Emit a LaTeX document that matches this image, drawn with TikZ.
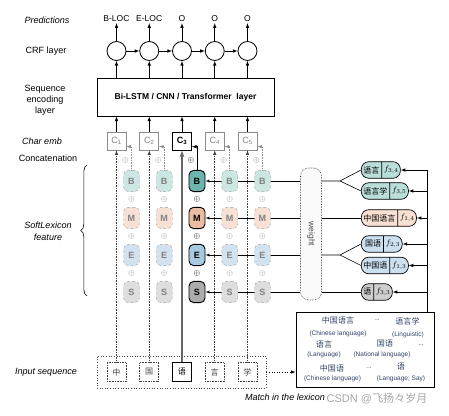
\documentclass[tikz,border=0pt]{standalone}
\usepackage{fontspec}
\setmainfont{Liberation Sans}
\newfontfamily\cjk{Noto Sans CJK SC}
\usetikzlibrary{shapes.multipart,decorations.pathreplacing,backgrounds}

\definecolor{bhi}{RGB}{108,180,172}
\definecolor{blo}{RGB}{204,230,228}
\definecolor{mhi}{RGB}{234,188,162}
\definecolor{mlo}{RGB}{247,225,212}
\definecolor{ehi}{RGB}{168,202,224}
\definecolor{elo}{RGB}{210,227,239}
\definecolor{shi}{RGB}{172,172,172}
\definecolor{slo}{RGB}{222,222,222}
\definecolor{lexteal}{RGB}{186,222,218}
\definecolor{lexpeach}{RGB}{249,224,210}
\definecolor{lexblue}{RGB}{204,224,240}
\definecolor{lexgray}{RGB}{206,206,206}
\definecolor{lexink}{RGB}{48,66,104}

\begin{document}
\begin{tikzpicture}[x=0.035cm,y=-0.035cm,inner sep=0.3mm,>=latex,semithick,
  lbl/.style={font=\fontsize{9}{11}\selectfont,align=center},
  ilbl/.style={align=center,font=\fontsize{9}{12}\selectfont\itshape},
  pred/.style={font=\fontsize{8.5}{10}\selectfont},
  crf/.style={circle,draw,line width=0.8pt,minimum size=0.665cm,inner sep=0},
  cbox/.style={draw=black!45,text=black!50,minimum width=0.665cm,minimum height=0.63cm,font=\fontsize{9}{10}\selectfont},
  cboxon/.style={draw=black,text=black,line width=0.8pt,minimum width=0.665cm,minimum height=0.63cm,font=\fontsize{9}{10}\selectfont\bfseries},
  bmes/.style={draw=black!35,densely dashed,thin,rounded corners=0.16cm,minimum width=0.56cm,minimum height=0.74cm,text=black!50,font=\fontsize{9}{10}\selectfont\bfseries},
  bmeson/.style={draw=black,line width=0.9pt,rounded corners=0.16cm,minimum width=0.56cm,minimum height=0.74cm,font=\fontsize{9}{10}\selectfont\bfseries},
  oplus/.style={text=black!45,inner sep=0,font=\fontsize{8}{9}\selectfont},
  chbox/.style={draw=black!75,densely dotted,minimum size=0.665cm,font=\cjk\fontsize{8}{9}\selectfont,text=black!75},
  lex/.style={rectangle split,rectangle split horizontal,rectangle split parts=2,draw,line width=0.7pt,rounded corners=0.26cm,minimum height=0.58cm,inner xsep=0.7mm,anchor=west,font=\cjk\fontsize{8}{9}\selectfont},
  lexw/.style={text=lexink,font=\cjk\fontsize{8}{9}\selectfont},
  lexe/.style={text=lexink,font=\fontsize{6.5}{7.5}\selectfont},
  faint/.style={black!45,densely dotted}]

\useasboundingbox (0,0) rectangle (449,416);

% left labels
\node(lp) at (47,20) [ilbl] {Predictions};
\node(lc) at (46,51) [lbl] {CRF layer};
\node(ls) at (45,100) [lbl] {Sequence\\encoding\\layer};
\node(le) at (42,141) [ilbl] {Char emb};
\node(lk) at (48,158) [lbl] {Concatenation};
\node(lf) at (48,231) [ilbl] {SoftLexicon\\feature};
\node(li) at (46,372) [ilbl] {Input sequence};
\draw[decorate,decoration={brace,amplitude=0.22cm}] (87,296) -- (87,165);

% CRF + encoder
\node(enc) at (185.5,97) [draw,line width=0.8pt,minimum width=6.2cm,minimum height=1.33cm,font=\fontsize{8.5}{10}\selectfont\bfseries] {Bi-LSTM / CNN / Transformer\ \ layer};
\foreach \i/\x/\t in {1/116.5/B-LOC,2/149.25/E-LOC,3/182/O,4/214.75/O,5/247.5/O}{
  \node(crf\i) at (\x,51) [crf] {};
  \node(p\i) at (\x,19) [pred] {\t};
  \draw[->] (crf\i.north) -- (p\i.south);
  \draw[->] (enc.north -| crf\i) -- (crf\i.south);
}
\foreach \i/\j in {1/2,2/3,3/4,4/5}
  \draw[->] (crf\i.east) -- (crf\j.west);

% input sequence
\node(in) at (181.5,372) [draw=black!70,dotted,minimum width=5.915cm,minimum height=1.12cm] {};
\node(ch3) at (182,372) [draw,line width=0.8pt,minimum size=0.665cm,font=\cjk\fontsize{8}{9}\selectfont] {语};

% faded columns
\foreach \i/\x/\ch in {1/116.5/中,2/149.25/国,4/214.75/言,5/247.5/学}{
  \node(c\i) at (\x,141) [cbox] {C\textsubscript{\i}};
  \node(ch\i) at (\x,372) [chbox] {\ch};
  \node(b\i) at (\x+15,181) [bmes,fill=blo] {B};
  \node(m\i) at (\x+15,218) [bmes,fill=mlo] {M};
  \node(e\i) at (\x+15,255) [bmes,fill=elo] {E};
  \node(s\i) at (\x+15,292) [bmes,fill=slo] {S};
  \node(o\i) at (\x+9,160) [oplus] {$\oplus$};
  \node(ob\i) at (\x+15,199.5) [oplus] {$\oplus$};
  \node(om\i) at (\x+15,236.5) [oplus] {$\oplus$};
  \node(oe\i) at (\x+15,273.5) [oplus] {$\oplus$};
  \draw[->,black!75,densely dotted] (ch\i.north) -- (c\i.south);
  \draw[->,faint] (b\i.north) |- (c\i.-30);
  \draw[->] (c\i.north) -- (c\i.north |- enc.south);
}

% the highlighted column
\node(c3) at (182,141) [cboxon] {C\textsubscript{3}};
\node(b3) at (197,181) [bmeson,fill=bhi] {B};
\node(m3) at (197,218) [bmeson,fill=mhi] {M};
\node(e3) at (197,255) [bmeson,fill=ehi] {E};
\node(s3) at (197,292) [bmeson,fill=shi] {S};
\node(o3) at (191,160) [oplus,text=black] {$\oplus$};
\node(ob3) at (197,199.5) [oplus,text=black] {$\oplus$};
\node(om3) at (197,236.5) [oplus,text=black] {$\oplus$};
\node(oe3) at (197,273.5) [oplus,text=black] {$\oplus$};
\draw[->,black!60,line width=1.1pt] (ch3.north) -- (c3.south);
\draw[->] (b3.north) |- (c3.-30);
\draw[->] (c3.north) -- (c3.north |- enc.south);

% weight
\node(wt) at (311,234) [draw=black!80,densely dotted,fill=black!2,rounded corners=0.28cm,minimum width=0.735cm,minimum height=4.62cm] {};
\node(wtl) at (wt.center) [rotate=-90,text=black!70,font=\fontsize{8.5}{10}\selectfont] {weight};
\begin{scope}[on background layer]
\draw[->] (wt.west |- b3) -- (b3.east);
\draw[->] (wt.west |- m3) -- (m3.east);
\draw[->] (wt.west |- e3) -- (e3.east);
\draw[->] (wt.west |- s3) -- (s3.east);
\end{scope}

% matched words
\node(x34) at (361,170) [lex,fill=lexteal] {语言\nodepart{two}$f_{3,4}$};
\node(x35) at (361,191) [lex,fill=lexteal] {语言学\nodepart{two}$f_{3,5}$};
\node(x14) at (361,218) [lex,fill=lexpeach] {中国语言\nodepart{two}$f_{1,4}$};
\node(x23) at (361,244) [lex,fill=lexblue] {\ 国语\ \nodepart{two}$f_{2,3}$};
\node(x13) at (361,265.5) [lex,fill=lexblue] {中国语\nodepart{two}$f_{1,3}$};
\node(x33) at (361,292) [lex,fill=lexgray] {语\nodepart{two}$f_{3,3}$};
\coordinate(fkb) at (340,181);
\coordinate(fke) at (340,255);
\draw (wt.east |- b3) -- (fkb) -- (x34.west);
\draw (fkb) -- (x35.west);
\draw (wt.east |- m3) -- (x14.west);
\draw (wt.east |- e3) -- (fke) -- (x23.west);
\draw (fke) -- (x13.west);
\draw (wt.east |- s3) -- (x33.west);

% lexicon
\node(lexi) at (365,349.5) [draw,line width=0.8pt,minimum width=4.83cm,minimum height=2.625cm] {};
\coordinate(bus) at (427.5,170);
\draw[->] (lexi.north -| bus) -- (bus) -- (x34.east);
\draw[->] (bus |- x35.east) -- (x35.east);
\draw[->] (bus |- x14.east) -- (x14.east);
\draw[->] (bus |- x23.east) -- (x23.east);
\draw[->] (bus |- x13.east) -- (x13.east);
\draw[->] (bus |- x33.east) -- (x33.east);
\draw[->,dotted] (in.east) -- (in.east -| lexi.west);

\node(w1) at (338,320) [lexw] {中国语言};
\node(d1) at (377,320) [lexe] {...};
\node(w2) at (407.5,321) [lexw] {语言学};
\node(t1) at (338,334) [lexe] {(Chinese language)};
\node(t2) at (408,335) [lexe] {(Linguistic)};
\node(w3) at (324,344) [lexw] {语言};
\node(w4) at (385,344) [lexw] {国语};
\node(d2) at (421,345) [lexe] {...};
\node(t3) at (324,355) [lexe] {(Language)};
\node(t4) at (382,355) [lexe] {(National language)};
\node(w5) at (332,368) [lexw] {中国语};
\node(d3) at (369,368) [lexe] {...};
\node(w6) at (401,367) [lexw] {语};
\node(t5) at (332.5,379) [lexe] {(Chinese language)};
\node(t6) at (401,379) [lexe] {(Language; Say)};

\node(mt) at (285,397) [ilbl] {Match in the lexicon};
\node(wm) at (377,399) [text=black!35,font=\fontsize{11}{12}\selectfont] {CSDN @{\cjk 飞扬々岁月}};

\end{tikzpicture}
\end{document}
